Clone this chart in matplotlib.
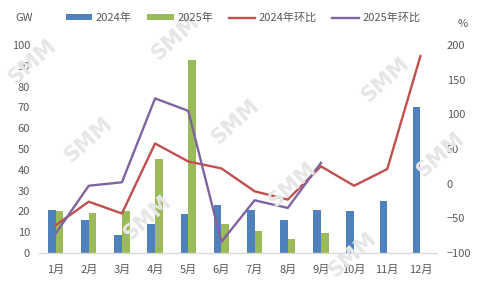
import matplotlib
matplotlib.use("Agg")
import matplotlib.pyplot as plt
from matplotlib.patches import Patch
from matplotlib.lines import Line2D
import numpy as np

plt.rcParams['font.family'] = ['Noto Sans CJK SC', 'DejaVu Sans']

months = ["1月", "2月", "3月", "4月", "5月", "6月", "7月", "8月", "9月", "10月", "11月", "12月"]
gw_2024 = [20.8, 15.7, 8.8, 14.1, 18.7, 23.0, 20.8, 16.1, 20.5, 20.2, 24.8, 70.1]
gw_2025 = [20.0, 19.3, 20.0, 45.1, 92.8, 14.1, 10.7, 6.9, 9.4]
mom_2024 = [-60, -26, -43, 58, 32, 22, -11, -23, 25, -3, 21, 184]
mom_2025 = [-72, -3, 2, 123, 105, -84, -24, -35, 30]

labels = ["2024年", "2025年", "2024年环比", "2025年环比"]
c_blue, c_green, c_red, c_purple = "#4F81BD", "#9BBB59", "#C0504D", "#8064A2"
txt = "#595959"
fs = 8

W, H = 481, 289
fig = plt.figure(figsize=(W / 100, H / 100), dpi=100)
ax = fig.add_axes([39 / W, 36 / H, 398 / W, 208 / H])
ax2 = ax.twinx()

# watermarks
wm = [(32, 62), (175, 38), (88, 140), (147, 218), (235, 122), (385, 80),
      (292, 185), (440, 155), (352, 255)]
for (x, y) in wm:
    fig.text(x / W, 1 - y / H, "SMM", fontsize=15, fontweight="bold", color="#e6e6e6",
             rotation=42, ha="center", va="center", family="DejaVu Sans", zorder=0)

x = np.arange(len(months))
bw = 0.23
ax.bar(x[:len(gw_2024)] - bw / 2, gw_2024, width=bw, color=c_blue, zorder=2)
ax.bar(x[:len(gw_2025)] + bw / 2, gw_2025, width=bw, color=c_green, zorder=2)

ax2.plot(x[:len(mom_2024)], mom_2024, color=c_red, lw=1.7, zorder=3)
ax2.plot(x[:len(mom_2025)], mom_2025, color=c_purple, lw=1.7, zorder=3)

ax.set_xlim(-0.5, 11.5)
ax.set_ylim(0, 100)
ax2.set_ylim(-100, 200)
ax.set_yticks(np.arange(0, 101, 10))
ax2.set_yticks(np.arange(-100, 201, 50))
ax.set_xticks(x)
ax.set_xticklabels(months)

for a in (ax, ax2):
    for s in a.spines.values():
        s.set_visible(False)
    a.tick_params(length=0, labelsize=fs, colors=txt)
    a.patch.set_visible(False)
ax.spines['bottom'].set_visible(True)
ax.spines['bottom'].set_color("#D9D9D9")
ax.spines['bottom'].set_linewidth(1)
ax.tick_params(axis='x', pad=8.5)
ax.tick_params(axis='y', pad=6.5)
ax2.tick_params(axis='y', pad=7)

fig.text(24 / W, 1 - 18 / H, "GW", fontsize=fs, color=txt, ha="center", va="center")
fig.text(463 / W, 1 - 24 / H, "%", fontsize=fs, color=txt, ha="center", va="center")

handles = [Patch(facecolor=c_blue), Patch(facecolor=c_green),
           Line2D([], [], color=c_red, lw=1.7), Line2D([], [], color=c_purple, lw=1.7)]
leg = fig.legend(handles, labels, ncol=4, loc="center", bbox_to_anchor=(243 / W, 1 - 18 / H),
                 frameon=False, fontsize=fs, handlelength=2.4, handleheight=0.45,
                 handletextpad=0.3, columnspacing=1.4, labelcolor=txt)

fig.savefig("out.png", dpi=100)
